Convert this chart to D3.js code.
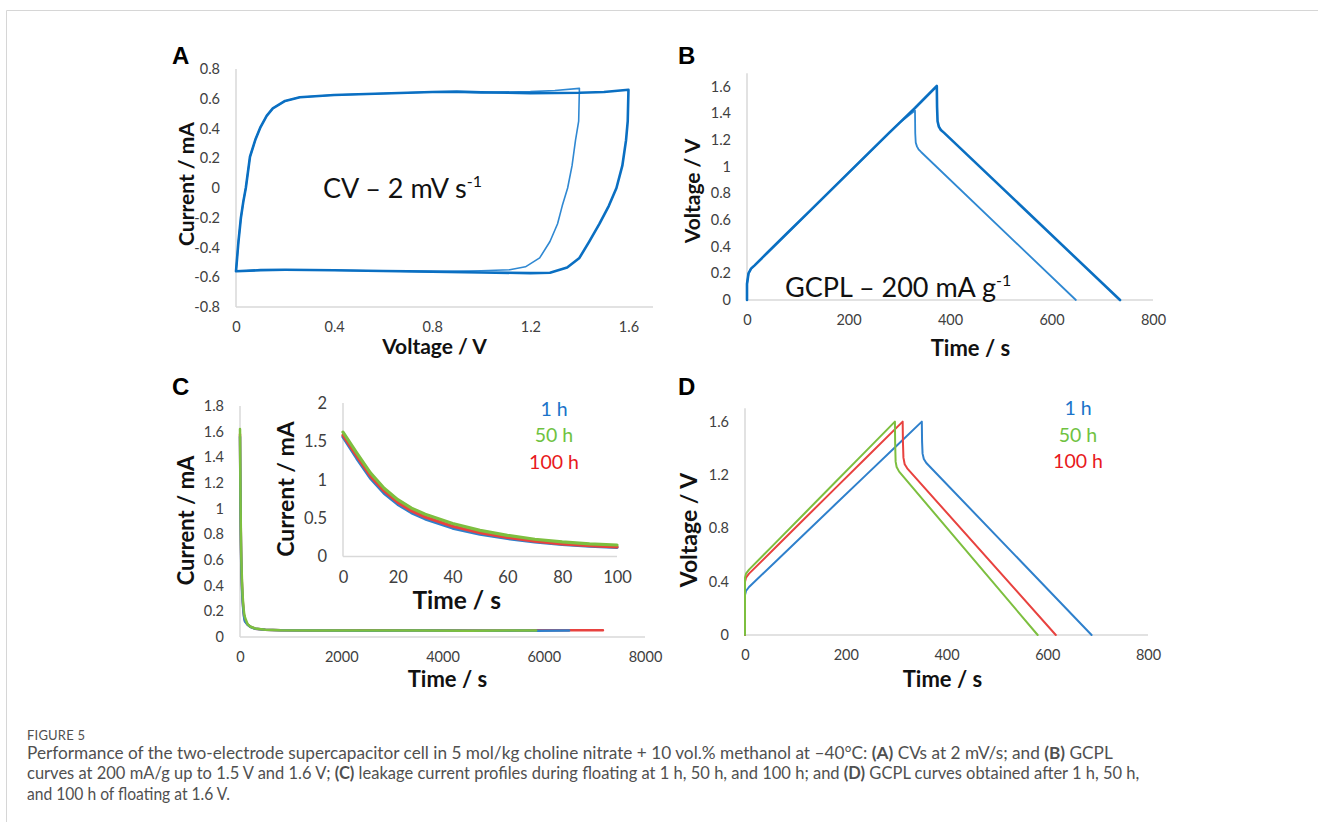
<!DOCTYPE html>
<meta charset="utf-8">
<style>
  body { margin: 0; background: #fff; }
  svg { display: block; font-family: Lato, "Open Sans", sans-serif; }
  .tick text { font-family: Lato, "Open Sans", sans-serif; font-size: 14.5px; fill: #404040; }
  .inset .tick text { font-size: 16.5px; }
  .axis-line { stroke: #d9d9d9; stroke-width: 1.5; }
  .title { font-weight: bold; fill: #111; text-anchor: middle; }
  .panel-letter { font-family: "Liberation Sans", Arial, sans-serif; font-weight: bold; font-size: 24px; fill: #000; }
  .series { fill: none; stroke-linejoin: round; stroke-linecap: round; }
  .note { font-size: 27px; fill: #111; }
  .legend { font-size: 19.5px; text-anchor: middle; }
  .caption { font-size: 16.5px; fill: #505050; }
  .frame { fill: none; stroke: #d6d6d6; stroke-width: 1; }
</style>
<svg width="1318" height="822"></svg>
<script src="https://d3js.org/d3.v7.min.js"></script>
<script>

// ---------- data ----------

// A: CV at 2 mV/s, loop to 1.6 V and loop to 1.4 V (V, mA)
var cvHighVolt = [0, 0.01, 0.02, 0.03, 0.04, 0.057, 0.08, 0.10, 0.125, 0.15, 0.20, 0.26, 0.40, 0.60, 0.80, 0.90, 1.00, 1.20, 1.40, 1.50, 1.60,
                  1.597, 1.59, 1.575, 1.551, 1.52, 1.482, 1.44, 1.40, 1.35, 1.28, 1.20, 1.00, 0.80, 0.60, 0.40, 0.20, 0.10, 0];
var cvHighCurr = [-0.56, -0.36, -0.2, -0.09, 0.0, 0.21, 0.33, 0.41, 0.485, 0.535, 0.585, 0.61, 0.625, 0.635, 0.645, 0.648, 0.643, 0.638, 0.64, 0.645, 0.66,
                  0.45, 0.32, 0.15, 0.0, -0.12, -0.24, -0.36, -0.47, -0.535, -0.57, -0.572, -0.568, -0.562, -0.558, -0.553, -0.55, -0.552, -0.56];
var cvLowVolt = [0, 0.01, 0.02, 0.03, 0.04, 0.057, 0.08, 0.10, 0.125, 0.15, 0.20, 0.26, 0.40, 0.60, 0.80, 1.00, 1.20, 1.30, 1.40,
                 1.397, 1.384, 1.37, 1.352, 1.33, 1.311, 1.28, 1.238, 1.18, 1.116, 1.00, 0.80, 0.60, 0.40, 0.20, 0.10, 0];
var cvLowCurr = [-0.56, -0.36, -0.2, -0.09, 0.0, 0.21, 0.33, 0.41, 0.485, 0.535, 0.585, 0.61, 0.625, 0.635, 0.645, 0.643, 0.648, 0.655, 0.67,
                 0.45, 0.32, 0.15, 0.0, -0.12, -0.24, -0.36, -0.47, -0.53, -0.55, -0.556, -0.562, -0.558, -0.553, -0.55, -0.552, -0.56];

// B: GCPL at 200 mA/g (s, V)
var gcHighTime = [0, 0, 3, 8, 15, 40, 80, 120, 160, 200, 240, 280, 301, 331, 374, 374.5, 375.5, 378, 382, 388, 735];
var gcHighVolt = [0, 0.12, 0.2, 0.235, 0.26, 0.354, 0.504, 0.653, 0.803, 0.953, 1.103, 1.253, 1.33, 1.44, 1.605, 1.45, 1.34, 1.3, 1.275, 1.255, 0];
var gcLowTime = [0, 0, 3, 8, 15, 40, 80, 120, 160, 200, 240, 280, 301, 331, 331.5, 332.5, 335, 338, 343, 648];
var gcLowVolt = [0, 0.12, 0.2, 0.235, 0.26, 0.354, 0.504, 0.653, 0.803, 0.953, 1.103, 1.253, 1.33, 1.42, 1.25, 1.18, 1.15, 1.13, 1.11, 0];

// C: leakage current during floating (s, mA) - first 100 s (inset) and the long tail
var leakTime = [0, 5, 10, 15, 20, 25, 30, 40, 50, 60, 70, 80, 90, 100];
var leak1h   = [1.56, 1.28, 1.02, 0.825, 0.68, 0.57, 0.49, 0.37, 0.29, 0.235, 0.19, 0.158, 0.135, 0.12];
var leak50h  = [1.62, 1.35, 1.09, 0.89, 0.74, 0.63, 0.55, 0.43, 0.34, 0.275, 0.225, 0.19, 0.165, 0.15];
var leak100h = [1.58, 1.31, 1.05, 0.855, 0.705, 0.595, 0.515, 0.395, 0.31, 0.25, 0.2, 0.165, 0.14, 0.125];
var tailTime   = [150, 200, 300, 500, 800, 1500, 2500, 3500, 4500, 5500, 5850, 6500, 7170];
var tail1h     = [0.095, 0.08, 0.064, 0.056, 0.052, 0.05, 0.049, 0.05, 0.048, 0.05, 0.049, 0.05];
var tail50h    = [0.1, 0.082, 0.066, 0.057, 0.053, 0.051, 0.05, 0.05, 0.049, 0.05, 0.05];
var tail100h   = [0.097, 0.081, 0.065, 0.056, 0.052, 0.051, 0.053, 0.052, 0.05, 0.051, 0.052, 0.053, 0.052];

// D: GCPL after floating (s, V)
var fl1hTime   = [0, 0, 2, 8, 60, 120, 180, 240, 300, 351, 351.5, 352.5, 355, 360, 688];
var fl1hVolt   = [0, 0.3, 0.33, 0.36, 0.548, 0.765, 0.982, 1.199, 1.416, 1.6, 1.45, 1.36, 1.32, 1.29, 0];
var fl50hTime  = [0, 0, 2, 8, 60, 120, 180, 240, 297.6, 298, 299, 301, 306, 581];
var fl50hVolt  = [0, 0.43, 0.46, 0.49, 0.689, 0.919, 1.149, 1.379, 1.6, 1.45, 1.3, 1.26, 1.225, 0];
var fl100hTime = [0, 0, 2, 8, 60, 120, 180, 240, 313, 313.5, 314.5, 317, 322, 617];
var fl100hVolt = [0, 0.4, 0.43, 0.46, 0.654, 0.879, 1.103, 1.327, 1.6, 1.45, 1.33, 1.28, 1.25, 0];

var legendLabels = ["1 h", "50 h", "100 h"];
var legendColors = ["#1a73c9", "#6fc241", "#e8191c"];
var lineColors   = { "1 h": "#2f80cc", "50 h": "#7dbf3f", "100 h": "#e8423f" };

// ---------- helpers ----------

var svg = d3.select("svg");
var fmt = function(d) { return String(d); };

function zip(xs, ys) {
  return ys.map(function(v, i) { return [xs[i], v]; });
}

function axes(g, x, y, xTicks, yTicks) {
  var x0 = x.range()[0], x1 = x.range()[1], y0 = y.range()[0], y1 = y.range()[1];
  g.append("g")
      .attr("transform", "translate(" + x0 + ",0)")
      .call(d3.axisLeft(y).tickValues(yTicks).tickSize(0).tickPadding(16).tickFormat(fmt))
      .call(function(s) { s.select(".domain").remove(); });
  g.append("g")
      .attr("transform", "translate(0," + y0 + ")")
      .call(d3.axisBottom(x).tickValues(xTicks).tickSize(0).tickPadding(15).tickFormat(fmt))
      .call(function(s) { s.select(".domain").remove(); });
  g.append("line").attr("class", "axis-line")
      .attr("x1", x0).attr("x2", x0).attr("y1", y0).attr("y2", y1);
  g.append("line").attr("class", "axis-line")
      .attr("x1", x0).attr("x2", x1).attr("y1", y0).attr("y2", y0);
}

function series(g, x, y, pts, color, width) {
  var line = d3.line().x(function(d) { return x(d[0]); }).y(function(d) { return y(d[1]); });
  g.append("path").attr("class", "series")
      .attr("d", line(pts))
      .attr("stroke", color)
      .attr("stroke-width", width);
}

function yTitle(g, bx, cy, text, size) {
  g.append("text").attr("class", "title")
      .attr("transform", "translate(" + bx + "," + cy + ") rotate(-90)")
      .style("font-size", size + "px")
      .text(text);
}

function xTitle(g, cx, by, text, size) {
  g.append("text").attr("class", "title")
      .attr("x", cx).attr("y", by)
      .style("font-size", size + "px")
      .text(text);
}

function letter(x, y, t) {
  svg.append("text").attr("class", "panel-letter").attr("x", x).attr("y", y).text(t);
}

function legend(g, cx, y0) {
  g.selectAll(null).data(legendLabels).enter().append("text")
      .attr("class", "legend")
      .attr("x", cx)
      .attr("y", function(d, i) { return y0 + i * 26.7; })
      .attr("fill", function(d, i) { return legendColors[i]; })
      .text(function(d) { return d; });
}

// page frame
svg.append("path").attr("class", "frame").attr("d", "M6.5,822V10.5H1318");

// ---------- A ----------
var gA = svg.append("g");
var xA = d3.scaleLinear().domain([0, 1.7]).range([236, 653]);
var yA = d3.scaleLinear().domain([-0.8, 0.8]).range([307, 69]);
axes(gA, xA, yA, [0, 0.4, 0.8, 1.2, 1.6], [-0.8, -0.6, -0.4, -0.2, 0, 0.2, 0.4, 0.6, 0.8]);
series(gA, xA, yA, zip(cvLowVolt, cvLowCurr), "#2f88d2", 1.6);
series(gA, xA, yA, zip(cvHighVolt, cvHighCurr), "#0a6fc2", 2.6);
yTitle(gA, 194, 184, "Current / mA", 21);
xTitle(gA, 434.5, 354, "Voltage / V", 21);
var cvNote = gA.append("text").attr("class", "note").attr("x", 323).attr("y", 198);
cvNote.append("tspan").text("CV \u2013 2 mV s");
cvNote.append("tspan").attr("dy", -11).style("font-size", "16px").text("-1");
letter(172, 64, "A");

// ---------- B ----------
var gB = svg.append("g");
var xB = d3.scaleLinear().domain([0, 800]).range([747, 1153]);
var yB = d3.scaleLinear().domain([0, 1.7]).range([300, 73.3]);
axes(gB, xB, yB, [0, 200, 400, 600, 800], [0, 0.2, 0.4, 0.6, 0.8, 1, 1.2, 1.4, 1.6]);
series(gB, xB, yB, zip(gcLowTime, gcLowVolt), "#2f88d2", 1.8);
series(gB, xB, yB, zip(gcHighTime, gcHighVolt), "#0a6fc2", 2.6);
yTitle(gB, 700, 191, "Voltage / V", 21);
xTitle(gB, 970.5, 356, "Time / s", 22);
var gcNote = gB.append("text").attr("class", "note").attr("x", 785).attr("y", 297);
gcNote.append("tspan").text("GCPL \u2013 200 mA g");
gcNote.append("tspan").attr("dy", -11).style("font-size", "16px").text("-1");
letter(678, 64, "B");

// ---------- C ----------
var gC = svg.append("g");
var xC = d3.scaleLinear().domain([0, 8000]).range([240, 645]);
var yC = d3.scaleLinear().domain([0, 1.8]).range([637, 406]);
axes(gC, xC, yC, [0, 2000, 4000, 6000, 8000], [0, 0.2, 0.4, 0.6, 0.8, 1, 1.2, 1.4, 1.6, 1.8]);
series(gC, xC, yC, zip(leakTime, leak100h).concat(zip(tailTime, tail100h)), lineColors["100 h"], 2.5);
series(gC, xC, yC, zip(leakTime, leak1h).concat(zip(tailTime, tail1h)), lineColors["1 h"], 2.5);
series(gC, xC, yC, zip(leakTime, leak50h).concat(zip(tailTime, tail50h)), lineColors["50 h"], 2.5);
yTitle(gC, 194, 520.5, "Current / mA", 22);
xTitle(gC, 447.5, 687, "Time / s", 22);
letter(172, 395, "C");

// inset: first 100 s
var gI = svg.append("g").attr("class", "inset");
var xI = d3.scaleLinear().domain([0, 100]).range([343, 617]);
var yI = d3.scaleLinear().domain([0, 2]).range([556.5, 403]);
gI.append("rect").attr("x", 270).attr("y", 396).attr("width", 360).attr("height", 218).attr("fill", "#fff");
axes(gI, xI, yI, [0, 20, 40, 60, 80, 100], [0, 0.5, 1, 1.5, 2]);
series(gI, xI, yI, zip(leakTime, leak1h), lineColors["1 h"], 3.2);
series(gI, xI, yI, zip(leakTime, leak100h), lineColors["100 h"], 3.2);
series(gI, xI, yI, zip(leakTime, leak50h), lineColors["50 h"], 3.2);
yTitle(gI, 294, 489, "Current / mA", 23);
xTitle(gI, 456.7, 609, "Time / s", 24.5);
legend(gI, 554, 415.7);

// ---------- D ----------
var gD = svg.append("g");
var xD = d3.scaleLinear().domain([0, 800]).range([745, 1148]);
var yD = d3.scaleLinear().domain([0, 1.7]).range([635, 408.3]);
axes(gD, xD, yD, [0, 200, 400, 600, 800], [0, 0.4, 0.8, 1.2, 1.6]);
series(gD, xD, yD, zip(fl1hTime, fl1hVolt), lineColors["1 h"], 2);
series(gD, xD, yD, zip(fl100hTime, fl100hVolt), lineColors["100 h"], 2);
series(gD, xD, yD, zip(fl50hTime, fl50hVolt), lineColors["50 h"], 2);
yTitle(gD, 697, 530, "Voltage / V", 23);
xTitle(gD, 942.5, 687, "Time / s", 22);
legend(gD, 1078, 415);
letter(678, 395, "D");

// ---------- caption ----------
svg.append("text").attr("class", "caption")
    .attr("x", 27).attr("y", 739.5)
    .style("font-size", "13px").style("letter-spacing", "0.2px")
    .text("FIGURE 5");

var captionLines = [
  [["Performance of the two-electrode supercapacitor cell in 5 mol/kg choline nitrate + 10 vol.% methanol at \u201340\u00b0C: ", 0], ["(A)", 1], [" CVs at 2 mV/s; and ", 0], ["(B)", 1], [" GCPL", 0]],
  [["curves at 200 mA/g up to 1.5 V and 1.6 V; ", 0], ["(C)", 1], [" leakage current profiles during floating at 1 h, 50 h, and 100 h; and ", 0], ["(D)", 1], [" GCPL curves obtained after 1 h, 50 h,", 0]],
  [["and 100 h of floating at 1.6 V.", 0]]
];
var captionWidths = [1087, 1113, 203];
var captionBase = [758.5, 779.3, 799.5];

captionLines.forEach(function(parts, i) {
  var t = svg.append("text").attr("class", "caption")
      .attr("transform", "translate(27," + captionBase[i] + ")");
  parts.forEach(function(p) {
    t.append("tspan").style("font-weight", p[1] ? "bold" : "normal").text(p[0]);
  });
  // the original face is a little condensed: squeeze to the measured width
  var w = t.node().getComputedTextLength();
  t.attr("transform", "translate(27," + captionBase[i] + ") scale(" + (captionWidths[i] / w) + ",1)");
});

</script>
